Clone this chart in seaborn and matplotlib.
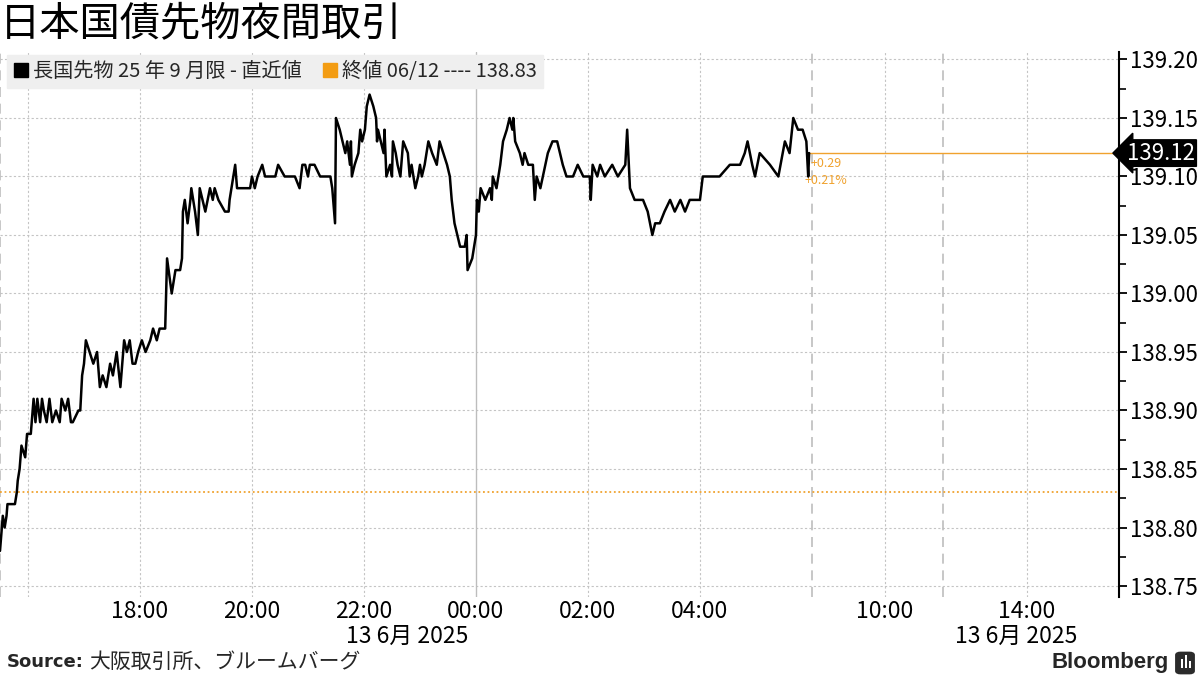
import matplotlib
matplotlib.use("Agg")
import matplotlib.pyplot as plt
import matplotlib.transforms as mtransforms
from matplotlib.lines import Line2D
from matplotlib.patches import FancyBboxPatch, Rectangle
from matplotlib.ticker import MultipleLocator, FixedLocator
import seaborn as sns
import pandas as pd

# ---------------- data ----------------
# minutes elapsed since 15:30 (12 Jun) of the night session
minutes = [0, 3, 5, 7, 8, 16, 18, 19, 21, 23, 27, 29, 33, 35, 36, 38, 40, 43, 45, 47,
           50, 53, 56, 60, 64, 66, 70, 73, 76, 78, 84, 86, 88, 90, 92, 96, 100, 104, 107, 110,
           114, 118, 121, 125, 129, 133, 136, 139, 142, 145, 148, 152, 156, 161, 164, 168, 171, 177, 178, 179,
           184, 188, 193, 195, 196, 198, 201, 204, 205, 209, 212, 214, 220, 225, 228, 230, 234, 241, 245, 246,
           252, 254, 268, 270, 273, 276, 281, 284, 295, 298, 305, 316, 321, 324, 327, 330, 332, 337, 343, 354,
           356, 359, 360, 364, 367, 370, 372, 375, 376, 377, 380, 384, 386, 388, 391, 393, 396, 400, 403, 404,
           405, 411, 412, 414, 418, 420, 421, 424, 426, 429, 432, 437, 439, 441, 445, 448, 450, 452, 455, 459,
           463, 468, 471, 475, 479, 482, 484, 487, 490, 493, 498, 500, 501, 506, 510, 511, 513, 515, 520, 525,
           527, 528, 532, 536, 539, 543, 546, 549, 550, 552, 557, 560, 562, 566, 571, 573, 575, 579, 587, 592,
           597, 600, 603, 607, 614, 619, 625, 632, 633, 635, 640, 643, 648, 656, 662, 670, 672, 675, 680, 686,
           689, 694, 699, 702, 707, 712, 718, 723, 729, 734, 739, 750, 753, 761, 771, 782, 793, 798, 801, 806,
           809, 814, 825, 834, 841, 846, 850, 855, 860, 864, 866, 867]
prices = [138.78, 138.81, 138.80, 138.81, 138.82, 138.82, 138.83, 138.84, 138.85, 138.87, 138.86, 138.88, 138.88, 138.90, 138.91, 138.89, 138.91, 138.89, 138.91, 138.90,
          138.89, 138.91, 138.89, 138.90, 138.89, 138.91, 138.90, 138.91, 138.89, 138.89, 138.90, 138.90, 138.93, 138.94, 138.96, 138.95, 138.94, 138.95, 138.92, 138.93,
          138.92, 138.94, 138.93, 138.95, 138.92, 138.96, 138.95, 138.96, 138.94, 138.94, 138.95, 138.96, 138.95, 138.96, 138.97, 138.96, 138.97, 138.97, 139.00, 139.03,
          139.00, 139.02, 139.02, 139.03, 139.07, 139.08, 139.06, 139.08, 139.09, 139.07, 139.05, 139.09, 139.07, 139.09, 139.08, 139.09, 139.08, 139.07, 139.07, 139.08,
          139.11, 139.09, 139.09, 139.10, 139.09, 139.10, 139.11, 139.10, 139.10, 139.11, 139.10, 139.10, 139.09, 139.11, 139.11, 139.10, 139.11, 139.11, 139.10, 139.10,
          139.09, 139.06, 139.15, 139.14, 139.13, 139.12, 139.13, 139.11, 139.13, 139.10, 139.11, 139.12, 139.14, 139.13, 139.14, 139.16, 139.17, 139.16, 139.15, 139.13,
          139.14, 139.12, 139.14, 139.10, 139.11, 139.10, 139.13, 139.12, 139.11, 139.10, 139.13, 139.12, 139.10, 139.11, 139.09, 139.10, 139.11, 139.10, 139.11, 139.13,
          139.12, 139.11, 139.13, 139.12, 139.11, 139.10, 139.08, 139.06, 139.05, 139.04, 139.04, 139.05, 139.02, 139.03, 139.05, 139.08, 139.07, 139.09, 139.08, 139.09,
          139.08, 139.10, 139.09, 139.11, 139.13, 139.14, 139.15, 139.14, 139.15, 139.13, 139.12, 139.11, 139.12, 139.11, 139.11, 139.08, 139.10, 139.09, 139.12, 139.13,
          139.13, 139.12, 139.11, 139.10, 139.10, 139.11, 139.10, 139.10, 139.08, 139.11, 139.10, 139.11, 139.10, 139.11, 139.10, 139.11, 139.14, 139.09, 139.08, 139.08,
          139.08, 139.07, 139.05, 139.06, 139.06, 139.07, 139.08, 139.07, 139.08, 139.07, 139.08, 139.08, 139.10, 139.10, 139.10, 139.11, 139.11, 139.12, 139.13, 139.11,
          139.10, 139.12, 139.11, 139.10, 139.13, 139.12, 139.15, 139.14, 139.14, 139.13, 139.10, 139.12]
assert len(minutes) == len(prices)

prev_close = 138.83
last_price = 139.12
change_abs = "+0.29"
change_pct = "+0.21%"

title = "日本国債先物夜間取引"
series_label = "長国先物 25 年 9 月限 - 直近値"
close_label = "終値 06/12 ---- 138.83"
source_label = "大阪取引所、ブルームバーグ"
date_label = "13 6月 2025"

y_ticks = [138.75, 138.80, 138.85, 138.90, 138.95, 139.00, 139.05, 139.10, 139.15, 139.20]
x_tick_pos = [150, 270, 390, 510, 630, 750, 948, 1100]
x_tick_labels = ["18:00", "20:00", "22:00", "00:00", "02:00", "04:00", "10:00", "14:00"]
dotted_grid_x = [30, 150, 270, 390, 630, 750, 948, 1100]
solid_grid_x = [510]
dashed_grid_x = [0, 870, 1010]
date_label_x = [436, 1089]

ORANGE = "#f0a22e"

# ---------------- style ----------------
sns.set_theme(style="white")
plt.rcParams["font.family"] = ["Noto Sans CJK JP", "DejaVu Sans"]

fig = plt.figure(figsize=(12, 6.75), dpi=100)
ax = fig.add_axes([0.0, 1 - 597 / 675, 1119 / 1200, 545 / 675])

df = pd.DataFrame({"minute": minutes, "price": prices})
sns.lineplot(data=df, x="minute", y="price", color="black", linewidth=1.8,
             estimator=None, sort=False, ax=ax, zorder=5)

ax.set_xlim(0, 1199)
ax.set_ylim(138.7406, 139.2064)
ax.set_xlabel("")
ax.set_ylabel("")

# grid
for v in y_ticks:
    ax.axhline(v, color="#c4c4c4", linestyle=(0, (2, 2)), linewidth=0.8, zorder=1)
for v in dotted_grid_x:
    ax.axvline(v, color="#c4c4c4", linestyle=(0, (2, 2)), linewidth=0.8, zorder=1)
for v in solid_grid_x:
    ax.axvline(v, color="#bdbdbd", linestyle="-", linewidth=1.0, zorder=1)
for v in dashed_grid_x:
    ax.axvline(v, color="#bdbdbd", linestyle=(0, (6, 4)), linewidth=1.2, zorder=1)

# previous close dotted and last value line
ax.axhline(prev_close, color=ORANGE, linestyle=(0, (1, 1.5)), linewidth=1.3, zorder=3)
ax.hlines(last_price, minutes[-1], 1199, color=ORANGE, linewidth=1.0, zorder=3)
ax.annotate(change_abs, xy=(minutes[-1], last_price), xytext=(1, -3), textcoords="offset points",
            color=ORANGE, fontsize=9, va="top", ha="left", zorder=4)
ax.annotate(change_pct, xy=(minutes[-1], last_price), xytext=(-3, -15), textcoords="offset points",
            color=ORANGE, fontsize=9, va="top", ha="left", zorder=4)

# axes spines / ticks
for s in ["top", "left", "bottom"]:
    ax.spines[s].set_visible(False)
ax.spines["right"].set_visible(True)
ax.spines["right"].set_color("black")
ax.spines["right"].set_linewidth(1.5)

ax.yaxis.tick_right()
ax.yaxis.set_major_locator(FixedLocator(y_ticks))
ax.yaxis.set_minor_locator(MultipleLocator(0.025))
ax.set_yticklabels([f"{v:.2f}" for v in y_ticks])
ax.tick_params(axis="y", which="major", direction="out", length=6, width=1.3,
               color="black", labelsize=16, pad=2, labelcolor="black")
ax.tick_params(axis="y", which="minor", direction="out", length=5, width=1.2, color="black", right=True)

ax.set_xticks(x_tick_pos)
ax.set_xticklabels(x_tick_labels)
ax.tick_params(axis="x", which="major", length=0, labelsize=16.5, pad=2, labelcolor="black")

trans = mtransforms.blended_transform_factory(ax.transData, ax.transAxes)
for xd in date_label_x:
    ax.text(xd, -0.072, date_label, transform=trans, ha="center", va="center",
            fontsize=16.5, color="black")

# last price tag
ax.annotate(f"{last_price:.2f}", xy=(1.0, last_price), xycoords=("axes fraction", "data"),
            xytext=(5.5, 0), textcoords="offset points", ha="left", va="center",
            fontsize=16, color="white", annotation_clip=False,
            bbox=dict(boxstyle="larrow,pad=0.08", fc="black", ec="black"), zorder=10)

# legend
handles = [Line2D([], [], marker="s", color="black", linestyle="none", markersize=10),
           Line2D([], [], marker="s", color="#f39c12", linestyle="none", markersize=10)]
leg = ax.legend(handles, [series_label, close_label], loc="upper left",
                bbox_to_anchor=(0.006, 0.995), ncol=2, frameon=True, fancybox=False,
                facecolor="#efefef", edgecolor="#efefef", framealpha=1, fontsize=14.5,
                handlelength=0.8, handletextpad=0.2, columnspacing=1.0, borderpad=0.3,
                borderaxespad=0.0)
leg.set_zorder(20)

# title / footer
fig.text(0.0, 0.963, title, fontsize=29, va="center", ha="left", color="black")
fig.text(0.006, 0.019, "Source:", fontsize=13, fontweight="bold", va="center", ha="left",
         family=["DejaVu Sans"])
fig.text(0.074, 0.019, source_label, fontsize=15, va="center", ha="left")
fig.text(0.974, 0.019, "Bloomberg", fontsize=16, fontweight="bold", va="center", ha="right",
         family=["Liberation Sans", "DejaVu Sans"])
fig.patches.append(FancyBboxPatch((1177 / 1200, 1 - 673 / 675), 16 / 1200, 20 / 675,
                                  boxstyle="round,pad=0.001,rounding_size=0.004",
                                  transform=fig.transFigure, fc="#2b2b2b", ec="#2b2b2b"))
for bx, bh in [(1181, 9), (1185, 13), (1189, 7)]:
    fig.patches.append(Rectangle((bx / 1200, 1 - 668 / 675), 2.2 / 1200, bh / 675,
                                 transform=fig.transFigure, fc="white", ec="none"))

fig.savefig("out.png", dpi=100)
